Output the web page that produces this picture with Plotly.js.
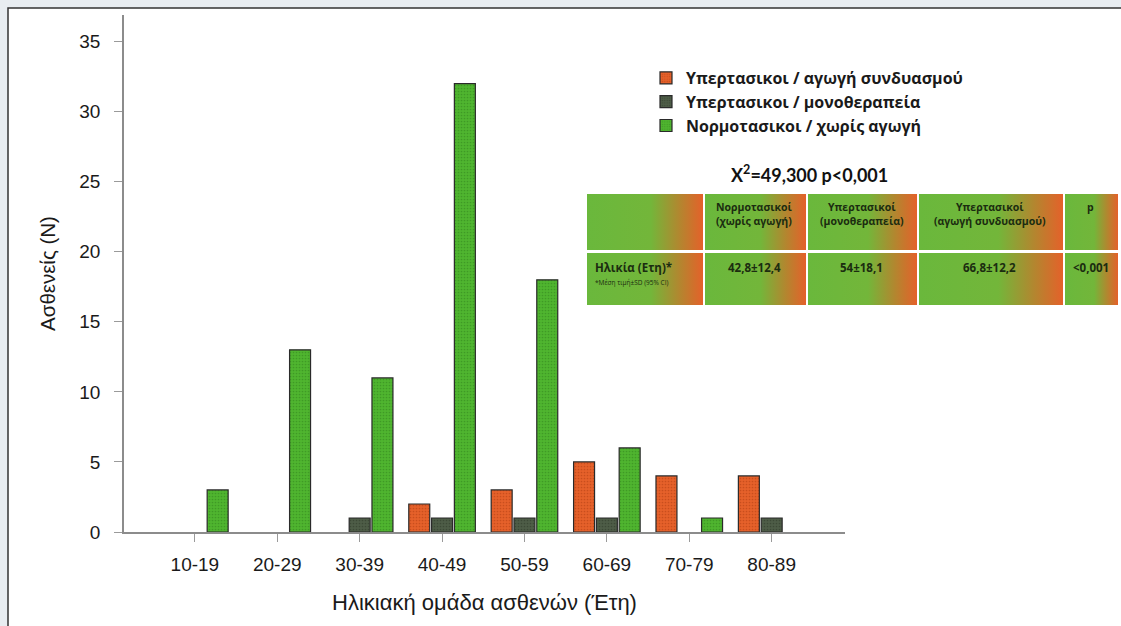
<!DOCTYPE html>
<html>
<head>
<meta charset="utf-8">
<script src="https://cdn.plot.ly/plotly-3.0.1.min.js"></script>
<style>
  html, body { margin: 0; padding: 0; background: #e8edf1; }
  #chart { width: 1121px; height: 626px; }
</style>
</head>
<body>
<div id="chart"></div>
<script>
// ---------------- DATA ----------------
const categories = ['10-19', '20-29', '30-39', '40-49', '50-59', '60-69', '70-79', '80-89'];
const seriesNames = [
  'Υπερτασικοι / αγωγή συνδυασμού',
  'Υπερτασικοι / μονοθεραπεία',
  'Νορμοτασικοι / χωρίς αγωγή'
];
const comboValues = [0, 0, 0, 2, 3, 5, 4, 4];
const monoValues  = [0, 0, 1, 1, 1, 1, 0, 1];
const normoValues = [3, 13, 11, 32, 18, 6, 1, 0];

const statText = 'X<sup>2</sup>=49,300 p&lt;0,001';
const tableHeader = ['', 'Νορμοτασικοί<br>(χωρίς αγωγή)', 'Υπερτασικοί<br>(μονοθεραπεία)', 'Υπερτασικοί<br>(αγωγή συνδυασμού)', 'p'];
const tableRow = ['Ηλικία (Ετη)*', '42,8±12,4', '54±18,1', '66,8±12,2', '&lt;0,001'];
const tableNote = '*Μέση τιμή±SD (95% CI)';

const xTitle = 'Ηλικιακή ομάδα ασθενών (Έτη)';
const yTitle = 'Ασθενείς (N)';

// ---------------- LAYOUT HELPERS ----------------
const W = 1121, H = 626;
const M = { l: 124, r: 276, t: 15, b: 94 };
const PW = W - M.l - M.r, PH = H - M.t - M.b;
const px = x => (x - M.l) / PW;
const py = y => (H - M.b - y) / PH;

const colors = ['#e6612a', '#4e5d47', '#4fb52f'];
const patFg = ['#c94e1d', '#3c4936', '#3f9a25'];
const valuesList = [comboValues, monoValues, normoValues];

const traces = valuesList.map((vals, i) => ({
  type: 'bar',
  name: seriesNames[i],
  x: categories,
  // empty groups (count 0) are not drawn, as in the reference
  y: vals.map(v => (v === 0 ? null : v)),
  marker: {
    color: colors[i],
    line: { color: '#2a2a2a', width: 1.2 },
    pattern: { shape: '.', size: 3, solidity: 0.25, fgcolor: patFg[i], bgcolor: colors[i], fillmode: 'replace' }
  },
  hoverinfo: 'x+y+name'
}));

// table background (gradient cells) as svg image
const colEdges = [587, 703, 806, 917, 1063, 1118];
const rowEdges = [[194, 250], [253, 305]];
const T = { x0: 587, y0: 194, x1: 1118, y1: 305 };
let svg = `<svg xmlns="http://www.w3.org/2000/svg" width="${T.x1 - T.x0}" height="${T.y1 - T.y0}" viewBox="0 0 ${T.x1 - T.x0} ${T.y1 - T.y0}">` +
  `<defs><linearGradient id="g" x1="0" y1="0" x2="1" y2="0">` +
  `<stop offset="0" stop-color="#6ab83c"/><stop offset="0.55" stop-color="#73b63a"/>` +
  `<stop offset="0.8" stop-color="#b3862f"/><stop offset="1" stop-color="#e4612a"/></linearGradient></defs>` +
  `<rect x="0" y="0" width="${T.x1 - T.x0}" height="${T.y1 - T.y0}" fill="#ffffff"/>`;
rowEdges.forEach(r => {
  for (let c = 0; c < colEdges.length - 1; c++) {
    const x0 = colEdges[c] - T.x0 + (c > 0 ? 2 : 0);
    const x1 = colEdges[c + 1] - T.x0;
    svg += `<rect x="${x0}" y="${r[0] - T.y0}" width="${x1 - x0}" height="${r[1] - r[0]}" fill="url(#g)"/>`;
  }
});
svg += '</svg>';
const tableImg = 'data:image/svg+xml;charset=utf-8,' + encodeURIComponent(svg);

const tblFont = { family: '"Open Sans", "Noto Sans", sans-serif', size: 10.5, color: '#1b2c10', weight: 'bold' };
const annotations = [];
annotations.push({
  xref: 'paper', yref: 'paper', x: px(809), y: py(174), text: statText, showarrow: false,
  xanchor: 'center', yanchor: 'middle',
  font: { family: 'Lato, "Noto Sans", sans-serif', size: 18, color: '#111', weight: 'bold' }
});
const colCenters = [0, 1, 2, 3, 4].map(c => (colEdges[c] + colEdges[c + 1]) / 2);
for (let c = 1; c < 5; c++) {
  annotations.push({
    xref: 'paper', yref: 'paper', x: px(colCenters[c]), y: py(198), text: tableHeader[c],
    showarrow: false, xanchor: 'center', yanchor: 'top', align: 'center', font: tblFont
  });
  annotations.push({
    xref: 'paper', yref: 'paper', x: px(colCenters[c]), y: py(258), text: tableRow[c],
    showarrow: false, xanchor: 'center', yanchor: 'top', align: 'center',
    font: Object.assign({}, tblFont, { size: 11.5 })
  });
}
annotations.push({
  xref: 'paper', yref: 'paper', x: px(593), y: py(258), text: tableRow[0],
  showarrow: false, xanchor: 'left', yanchor: 'top', font: Object.assign({}, tblFont, { size: 11.5 })
});
annotations.push({
  xref: 'paper', yref: 'paper', x: px(593), y: py(276), text: tableNote,
  showarrow: false, xanchor: 'left', yanchor: 'top', font: Object.assign({}, tblFont, { size: 6.5, weight: 'normal' })
});

const axisFont = { family: '"Liberation Sans", Arial, sans-serif', size: 19, color: '#1a1a1a' };

const layout = {
  width: W, height: H,
  margin: M,
  paper_bgcolor: '#e8edf1',
  plot_bgcolor: 'rgba(0,0,0,0)',
  barmode: 'group',
  bargap: 0.17,
  bargroupgap: 0.08,
  showlegend: true,
  legend: {
    x: px(646), y: py(61), xanchor: 'left', yanchor: 'top',
    bgcolor: 'rgba(0,0,0,0)', traceorder: 'normal',
    font: { family: '"Open Sans", "Noto Sans", sans-serif', size: 16, color: '#1a1a1a', weight: 'bold' }
  },
  xaxis: {
    type: 'category', range: [-0.86, 7.89],
    showline: true, linecolor: '#8c8c8c', linewidth: 1.5,
    ticks: 'outside', ticklen: 8, tickcolor: '#9a9a9a', tickwidth: 1.2,
    tickfont: axisFont, ticklabelstandoff: 6,
    showgrid: false, zeroline: false,
    title: { text: xTitle, font: Object.assign({}, axisFont, { size: 22 }), standoff: 21 }
  },
  yaxis: {
    range: [0, 36.9], dtick: 5, tick0: 0,
    showline: true, linecolor: '#8c8c8c', linewidth: 1.5,
    ticks: 'outside', ticklen: 8, tickcolor: '#9a9a9a', tickwidth: 1.2,
    tickfont: axisFont, ticklabelstandoff: 10,
    showgrid: false, zeroline: false,
    title: { text: yTitle, font: Object.assign({}, axisFont, { size: 20.5 }), standoff: 18 }
  },
  shapes: [{
    type: 'rect', xref: 'paper', yref: 'paper', layer: 'below',
    x0: px(8), y0: py(8), x1: px(1135), y1: py(640),
    line: { color: '#333', width: 1.5 }, fillcolor: '#ffffff'
  }],
  images: [{
    source: tableImg, xref: 'paper', yref: 'paper',
    x: px(T.x0), y: py(T.y0), sizex: (T.x1 - T.x0) / PW, sizey: (T.y1 - T.y0) / PH,
    xanchor: 'left', yanchor: 'top', sizing: 'stretch', layer: 'above'
  }],
  annotations: annotations
};

Plotly.newPlot('chart', traces, layout, { displayModeBar: false, responsive: false });
</script>
</body>
</html>
